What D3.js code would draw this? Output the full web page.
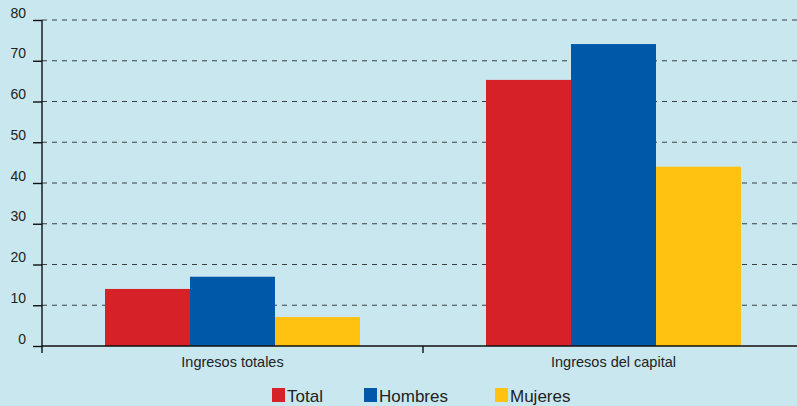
<!DOCTYPE html>
<html>
<head>
<meta charset="utf-8">
<script src="https://cdn.jsdelivr.net/npm/d3@7"></script>
<style>
  body { margin: 0; background: #c9e7ef; }
  svg { display: block; font-family: "Liberation Sans", Arial, sans-serif; }
</style>
</head>
<body>
<div id="chart"></div>
<script>
// data
var categories = ["Ingresos totales", "Ingresos del capital"];
var seriesNames = ["Total", "Hombres", "Mujeres"];
var totalValues = [14, 65.3];
var hombresValues = [17, 74.1];
var mujeresValues = [7.1, 44];
var yTicks = [0, 10, 20, 30, 40, 50, 60, 70, 80];

var colors = {"Total": "#d62129", "Hombres": "#0058a8", "Mujeres": "#ffc211"};

var width = 797, height = 406;
var margin = {top: 20, left: 42, bottom: 60};
var plotH = height - margin.top - margin.bottom; // 326

var svg = d3.select("#chart").append("svg")
  .attr("width", width)
  .attr("height", height);

svg.append("rect").attr("width", width).attr("height", height).attr("fill", "#c9e7ef");

var g = svg.append("g")
  .attr("transform", "translate(" + margin.left + "," + margin.top + ")");

// scales
var x = d3.scaleBand()
  .domain(categories)
  .range([0, 762]);

var xInner = d3.scaleBand()
  .domain(seriesNames)
  .range([0, 255]);

var y = d3.scaleLinear()
  .domain([0, 80])
  .range([plotH, 0]);

// gridlines
g.selectAll("line.grid")
  .data(yTicks.filter(function(d){ return d > 0; }))
  .enter().append("line")
  .attr("class", "grid")
  .attr("x1", 0)
  .attr("x2", width)
  .attr("y1", function(d){ return y(d); })
  .attr("y2", function(d){ return y(d); })
  .attr("stroke", "#3a4046")
  .attr("stroke-width", 1.2)
  .attr("stroke-dasharray", "5,5");

// bars
var rows = [];
categories.forEach(function(c, i){
  rows.push({cat: c, s: "Total", v: totalValues[i]});
  rows.push({cat: c, s: "Hombres", v: hombresValues[i]});
  rows.push({cat: c, s: "Mujeres", v: mujeresValues[i]});
});

var off = (x.bandwidth() - 255) / 2;
g.selectAll("rect.bar")
  .data(rows)
  .enter().append("rect")
  .attr("class", "bar")
  .attr("x", function(d){ return x(d.cat) + off + xInner(d.s); })
  .attr("y", function(d){ return y(d.v); })
  .attr("width", xInner.bandwidth())
  .attr("height", function(d){ return plotH - y(d.v); })
  .attr("fill", function(d){ return colors[d.s]; });

// y axis
var yAxis = d3.axisLeft(y).tickValues(yTicks).tickSize(9).tickPadding(6);
var ya = g.append("g").call(yAxis);
ya.select(".domain").remove();
ya.append("line")
  .attr("x1", 0).attr("x2", 0)
  .attr("y1", 0).attr("y2", plotH + 7)
  .attr("stroke", "#111").attr("stroke-width", 1.4);
ya.selectAll(".tick line").attr("stroke", "#111").attr("stroke-width", 1.4);
ya.selectAll("text")
  .attr("fill", "#222")
  .style("font-size", "14px")
  .attr("x", -16)
  .attr("dy", "-0.2em");

// x axis
var xa = g.append("g").attr("transform", "translate(0," + plotH + ")");
xa.append("line")
  .attr("x1", 0).attr("x2", width)
  .attr("stroke", "#111").attr("stroke-width", 1.4);
xa.selectAll("line.xt")
  .data(categories.slice(1))
  .enter().append("line")
  .attr("class", "xt")
  .attr("x1", function(d){ return x(d); })
  .attr("x2", function(d){ return x(d); })
  .attr("y1", 0).attr("y2", 7)
  .attr("stroke", "#111").attr("stroke-width", 1.4);
xa.selectAll("text")
  .data(categories)
  .enter().append("text")
  .attr("x", function(d){ return x(d) + x.bandwidth() / 2; })
  .attr("y", 21)
  .attr("text-anchor", "middle")
  .attr("fill", "#222")
  .style("font-size", "14.5px")
  .text(function(d){ return d; });

// legend
var legendX = [272, 364, 495];
var legend = svg.selectAll("g.legend")
  .data(seriesNames)
  .enter().append("g")
  .attr("class", "legend")
  .attr("transform", function(d, i){ return "translate(" + legendX[i] + ",388)"; });
legend.append("rect")
  .attr("width", 13).attr("height", 14)
  .attr("fill", function(d){ return colors[d]; });
legend.append("text")
  .attr("x", 15)
  .attr("y", 14)
  .attr("fill", "#222")
  .style("font-size", "17px")
  .text(function(d){ return d; });
</script>
</body>
</html>
